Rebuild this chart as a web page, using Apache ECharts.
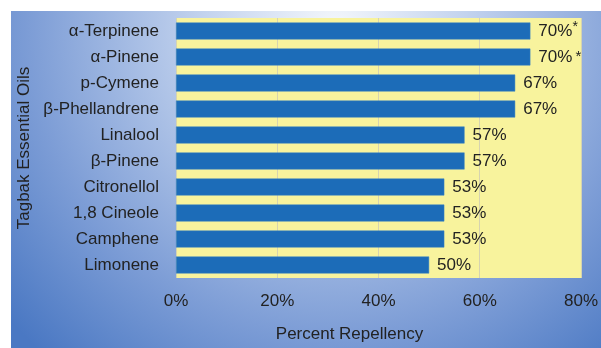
<!DOCTYPE html>
<html><head><meta charset="utf-8">
<script src="https://cdn.jsdelivr.net/npm/echarts@6/dist/echarts.min.js"></script>
<style>html,body{margin:0;padding:0;background:#fff}#c{width:601px;height:348px}</style>
</head><body><div id="c"></div>
<script>
const categories = ['α-Terpinene','α-Pinene','p-Cymene','β-Phellandrene','Linalool','β-Pinene','Citronellol','1,8 Cineole','Camphene','Limonene'];
const values = [70,70,67,67,57,57,53,53,53,50];
const marks = ['sup','mid','','','','','','','',''];
const xTicks = [0,20,40,60,80];

const chart = echarts.init(document.getElementById('c'), null, {renderer:'canvas'});
const font = 'Liberation Sans, Arial, sans-serif';
chart.setOption({
  animation:false,
  graphic:[{type:'rect', silent:true, z:-10, shape:{x:11,y:11,width:590,height:337},
    style:{fill:{type:'radial',x:0.55,y:0.05,r:1.3,colorStops:[
      {offset:0,color:'#f4f7fc'},{offset:0.3,color:'#c3d3ee'},{offset:0.7,color:'#7d9dd6'},{offset:1,color:'#4a78c3'}]}}}],
  grid:{left:176,right:14,top:18,bottom:68,show:true,backgroundColor:'#f8f39d',borderWidth:0},
  xAxis:{type:'value',min:0,max:80,interval:20,
    axisLabel:{formatter:v=>v+'%',fontSize:17,color:'#222',fontFamily:font,margin:15},
    axisLine:{show:false},axisTick:{show:false},
    splitLine:{lineStyle:{color:'#d6d3b0',width:1}},
    name:'Percent Repellency',nameLocation:'middle',nameGap:48,
    nameTextStyle:{fontSize:17,color:'#222',fontFamily:font,padding:[0,58,0,0]}},
  yAxis:{type:'category',data:categories,inverse:true,
    axisLabel:{fontSize:17,color:'#222',fontFamily:font,margin:17},
    axisLine:{show:false},axisTick:{show:false},splitLine:{show:false},
    name:'Tagbak Essential Oils',nameLocation:'middle',nameGap:143,nameRotate:90,
    nameTextStyle:{fontSize:17,color:'#222',fontFamily:font}},
  series:[{type:'bar',data:values,barWidth:17,
    itemStyle:{color:'#1c6cb8',borderColor:'#3a85c4',borderWidth:0.5},
    label:{show:true,position:'right',distance:8,fontSize:17,color:'#222',fontFamily:font,
      formatter:p=>{const m=marks[p.dataIndex];return p.value+'%'+(m==='sup'?'{s|*}':m==='mid'?'{m|*}':'');},
      rich:{s:{fontSize:14,color:'#222',fontFamily:font,verticalAlign:'top',padding:[0,0,8,0]},
            m:{fontSize:15,color:'#222',fontFamily:font,padding:[0,0,0,3]}}}}]
});
</script></body></html>
